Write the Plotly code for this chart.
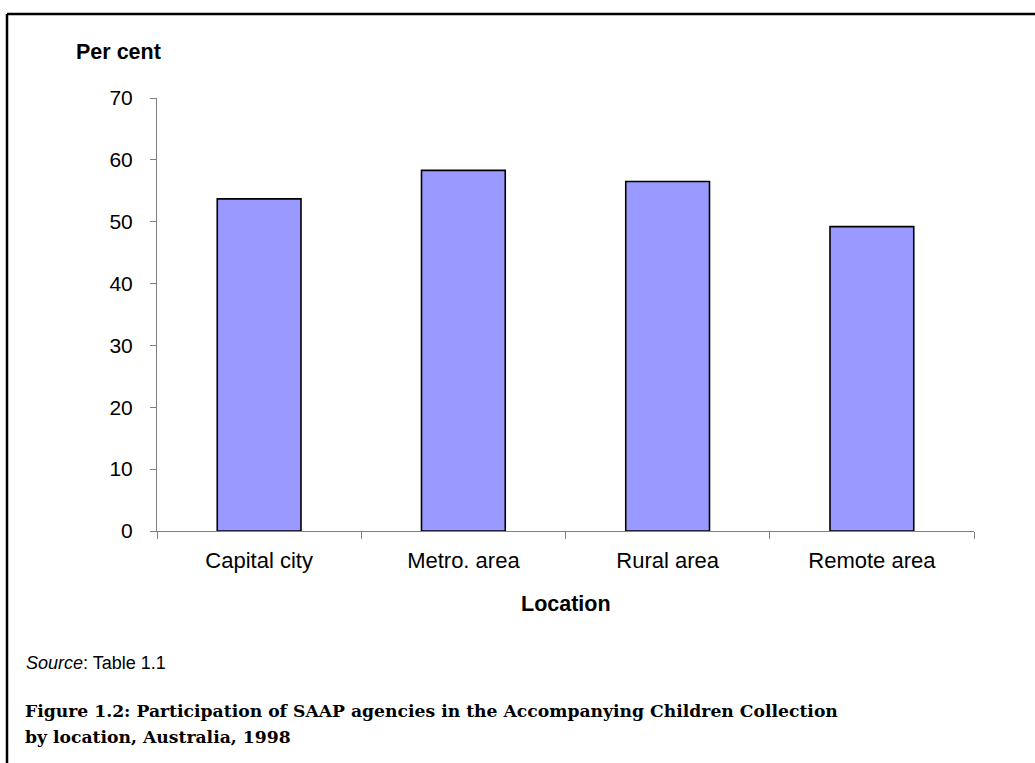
import plotly.graph_objects as go

categories = ["Capital city", "Metro. area", "Rural area", "Remote area"]
values = [53.7, 58.3, 56.5, 49.2]
y_ticks = [0, 10, 20, 30, 40, 50, 60, 70]

W, H = 1035, 763
L, R, T, B = 157, 61, 98, 232
pw = W - L - R
ph = H - T - B

def px_x(x):
    return (x - L) / pw

def px_y(y):
    return (H - B - y) / ph

fig = go.Figure(go.Bar(
    x=categories, y=values,
    marker=dict(color="#9999FF", line=dict(color="black", width=1.6)),
    width=0.41,
))

fig.update_layout(
    width=W, height=H,
    margin=dict(l=L, r=R, t=T, b=B, autoexpand=False),
    paper_bgcolor="white", plot_bgcolor="white",
    font=dict(family="Liberation Sans, Arial", color="black"),
    showlegend=False,
    xaxis=dict(
        type="category", showline=True, linecolor="#808080", linewidth=1,
        ticks="outside", tickson="boundaries", ticklen=7, tickcolor="#808080",
        tickfont=dict(size=22), ticklabelstandoff=10,
        showgrid=False, zeroline=False,
        range=[-0.5, 3.5],
    ),
    yaxis=dict(
        range=[0, 70], tickvals=y_ticks, showline=True, linecolor="#808080",
        linewidth=1, ticks="outside", ticklen=6, tickcolor="#808080",
        tickfont=dict(size=21), ticklabelstandoff=13,
        showgrid=False, zeroline=False,
    ),
)

cap_font = dict(size=17.2, family="DejaVu Serif, Liberation Serif, serif")
annotations = [
    dict(text="<b>Per cent</b>", x=px_x(74), y=px_y(52), xanchor="left", yanchor="middle",
         font=dict(size=21.5)),
    dict(text="<b>Location</b>", x=px_x(566), y=px_y(604), xanchor="center", yanchor="middle",
         font=dict(size=21.5)),
    dict(text="<i>Source</i>: Table 1.1", x=px_x(24), y=px_y(663), xanchor="left", yanchor="middle",
         font=dict(size=18)),
    dict(text="<b>Figure 1.2: Participation of SAAP agencies in the Accompanying Children Collection</b>",
         x=px_x(23), y=px_y(711), xanchor="left", yanchor="middle", font=cap_font),
    dict(text="<b>by location, Australia, 1998</b>",
         x=px_x(23), y=px_y(737), xanchor="left", yanchor="middle", font=cap_font),
]
for a in annotations:
    a.update(xref="paper", yref="paper", showarrow=False)
fig.update_layout(annotations=annotations)

frame = [
    (7, 14, 7, 770),
    (7, 14, 1040, 14),
]
shapes = []
for x0, y0, x1, y1 in frame:
    shapes.append(dict(type="line", xref="paper", yref="paper",
                       x0=px_x(x0), y0=px_y(y0), x1=px_x(x1), y1=px_y(y1),
                       line=dict(color="black", width=2.5)))
fig.update_layout(shapes=shapes)

fig.write_html("out.html", config={"displayModeBar": False},
               post_script="document.body.style.margin='0';document.body.style.overflow='hidden';")
